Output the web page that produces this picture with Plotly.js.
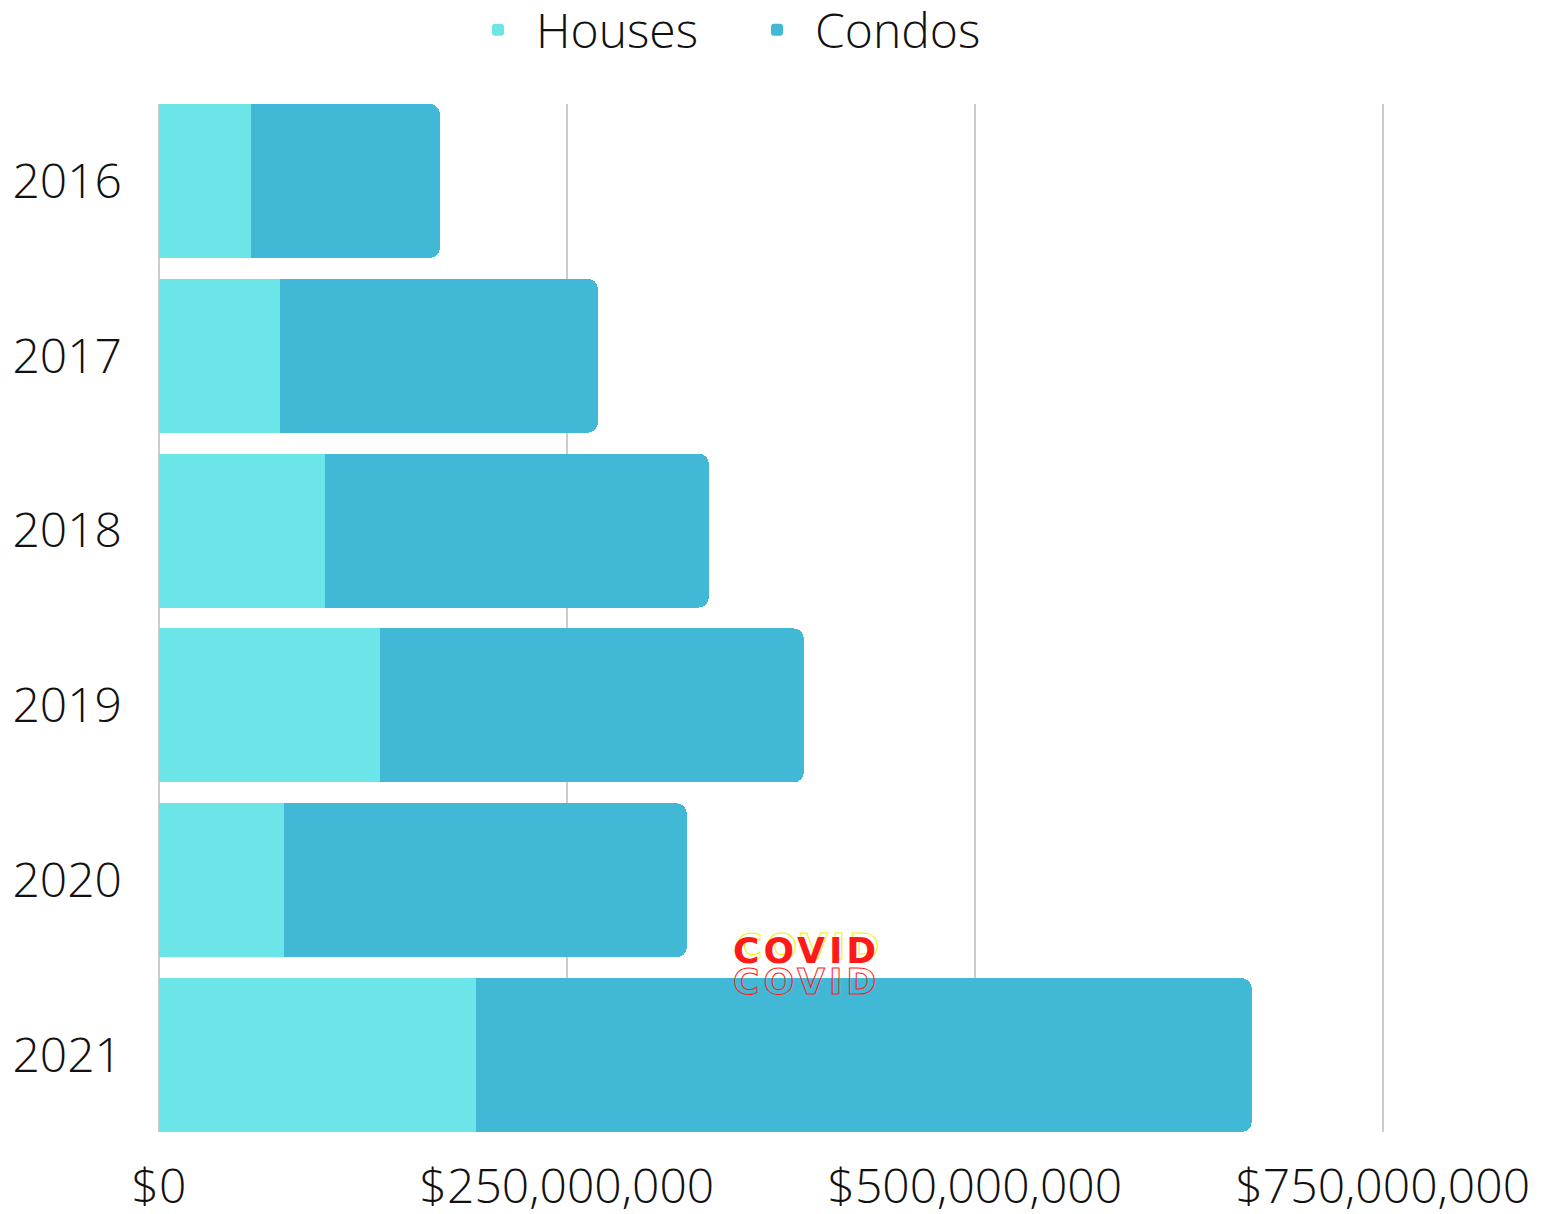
<!DOCTYPE html>
<html>
<head>
<meta charset="utf-8">
<script src="https://cdn.plot.ly/plotly-3.0.1.min.js"></script>
<style>html,body{margin:0;padding:0;background:#fff;}#chart{width:1543px;height:1214px;}</style>
</head>
<body>
<div id="chart"></div>
<script>
const years = ['2016', '2017', '2018', '2019', '2020', '2021'];
const houses = [56.4e6, 74.1e6, 101.7e6, 135.4e6, 76.6e6, 194.2e6];
const condos = [115.8e6, 194.9e6, 235.3e6, 259.8e6, 246.9e6, 475.5e6];
const xTickVals = [0, 250e6, 500e6, 750e6];
const xTickText = ['$0', '$250,000,000', '$500,000,000', '$750,000,000'];
const annotationText = 'COVID';

const font = {family: '"Open Sans", sans-serif', color: '#111', size: 48, weight: 300};

const traces = [
  {type: 'bar', orientation: 'h', name: 'Houses', y: years, x: houses,
   marker: {color: '#6CE5E8'}, hoverinfo: 'x+name'},
  {type: 'bar', orientation: 'h', name: 'Condos', y: years, x: condos,
   marker: {color: '#41B8D5'}, hoverinfo: 'x+name'}
];

const covidFont = {family: '"DejaVu Sans", sans-serif', size: 36, weight: 700};
const ls = 'letter-spacing:4px;';

const layout = {
  width: 1543, height: 1214,
  barmode: 'stack', bargap: 0.12, barcornerradius: 10,
  paper_bgcolor: '#fff', plot_bgcolor: '#fff',
  margin: {l: 159, r: 157, t: 104, b: 82, autoexpand: false},
  font: font,
  showlegend: true,
  legend: {orientation: 'h', x: 460 / 1543, xref: 'container', xanchor: 'left',
           y: 1 - 30 / 1214, yref: 'container', yanchor: 'middle',
           font: font, traceorder: 'normal', itemwidth: 66, entrywidth: 198},
  xaxis: {range: [0, 752e6], tickvals: xTickVals, ticktext: xTickText,
          showgrid: true, gridcolor: '#cccccc', gridwidth: 2, zeroline: true,
          zerolinecolor: '#cccccc', zerolinewidth: 2, showline: false, ticks: '',
          tickfont: font, ticklabelstandoff: 22, fixedrange: true},
  yaxis: {type: 'category', categoryorder: 'array', categoryarray: years,
          range: [5.44, -0.44], showgrid: false, zeroline: false, showline: false,
          ticks: '', tickfont: font, ticklabelstandoff: 36, fixedrange: true},
  annotations: [
    {x: 397e6, y: 4.40, xref: 'x', yref: 'y', showarrow: false,
     text: '<span style="' + ls + 'fill:none;stroke:#f5f000;stroke-width:1px">' + annotationText + '</span>',
     font: Object.assign({color: '#f5f000'}, covidFont), xshift: 3, yshift: 4},
    {x: 397e6, y: 4.40, xref: 'x', yref: 'y', showarrow: false,
     text: '<span style="' + ls + '">' + annotationText + '</span>',
     font: Object.assign({color: '#ff1a1a'}, covidFont)},
    {x: 397e6, y: 4.577, xref: 'x', yref: 'y', showarrow: false,
     text: '<span style="' + ls + 'fill:none;stroke:#ff1a1a;stroke-width:1px">' + annotationText + '</span>',
     font: Object.assign({color: '#ff1a1a'}, covidFont)}
  ]
};

Plotly.newPlot('chart', traces, layout, {displayModeBar: false, responsive: false});
</script>
</body>
</html>
